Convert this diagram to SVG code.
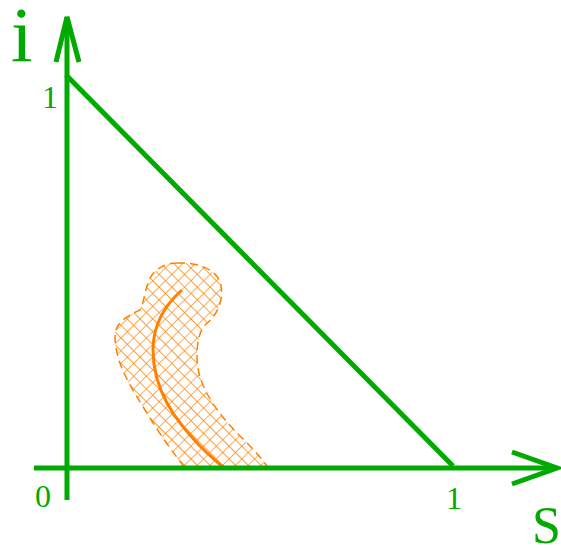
<svg xmlns="http://www.w3.org/2000/svg" width="561" height="550" viewBox="0 0 561 550">
<style>
.ax{stroke:#00aa00;stroke-width:5;fill:none;stroke-linecap:butt}
.lbl{font-family:"Liberation Serif",serif;fill:#00aa00}
</style>
<defs>
<pattern id="hatch" width="9" height="9" patternUnits="userSpaceOnUse" patternTransform="rotate(45)">
<path d="M0 0H9M0 0V9" stroke="#ff8000" stroke-width="1.3" fill="none"/>
</pattern>
</defs>
<rect width="561" height="550" fill="#fff"/>
<g id="region">
<path d="M177 263 C195 262 215 268 220 282 C225 298 218 315 205 325 C196 335 195 360 200 377 C206 397 222 418 240 436 C252 448 262 458 268 468 L185 468 C175 455 160 435 145 410 C130 385 116 365 115 337 C115 325 122 318 140 310 C145 300 145 285 152 275 C158 267 167 263 177 263 Z" fill="url(#hatch)" stroke="#ff8000" stroke-width="1.5" stroke-dasharray="8 5"/>
<path d="M182 290 C165 305 153 325 153 350 C153 390 175 420 200 446 C210 456 218 463 223 467" fill="none" stroke="#ff8000" stroke-width="3"/>
</g>
<g id="connectors">
<line class="ax" x1="34" y1="468" x2="557" y2="468"/>
<polyline class="ax" points="512,452 557,468 512,484"/>
<line class="ax" x1="67" y1="500" x2="67" y2="17"/>
<polyline class="ax" points="56,62 67,17 79,62"/>
<line class="ax" x1="66" y1="75" x2="453" y2="466"/>
</g>
<g id="labels">
<text class="lbl" x="11" y="61" font-size="78">i</text>
<text class="lbl" x="42" y="108" font-size="32">1</text>
<text class="lbl" x="35" y="507" font-size="32">0</text>
<text class="lbl" x="446" y="509" font-size="32">1</text>
<text class="lbl" x="532" y="543" font-size="52">S</text>
</g>
</svg>
